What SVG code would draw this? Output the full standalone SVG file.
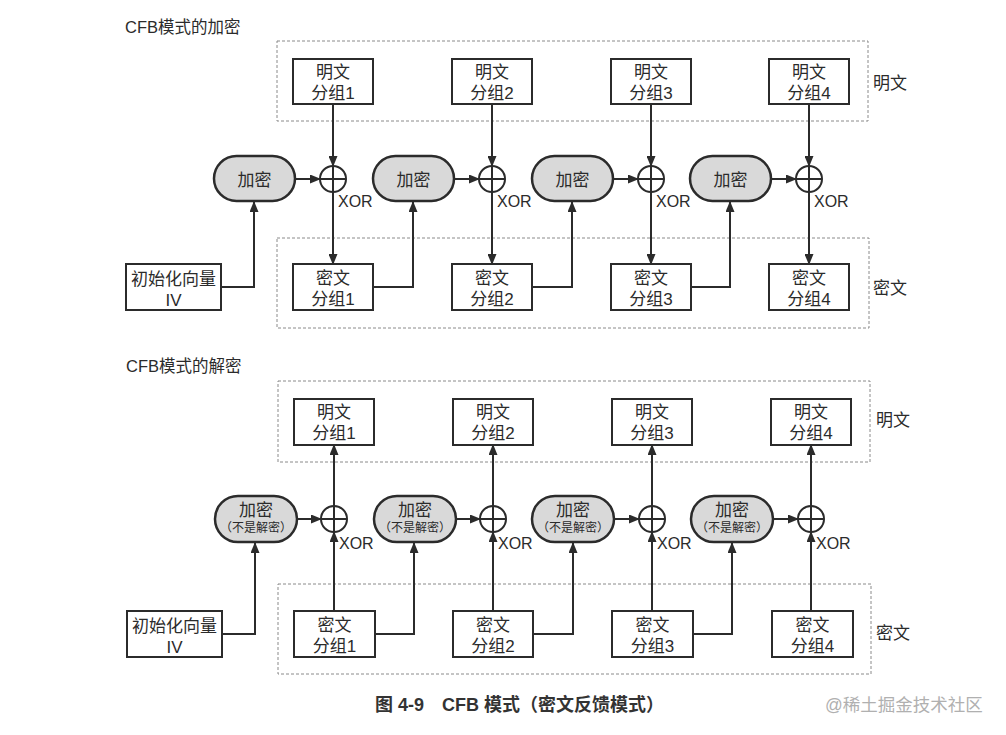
<svg xmlns="http://www.w3.org/2000/svg" width="1006" height="735" viewBox="0 0 1006 735">
<defs>
<style>
text{font-family:"Liberation Sans","Noto Sans CJK SC",sans-serif;fill:#2b2b2b;}
.t{font-size:17px;text-anchor:middle;}
.title{font-size:16.5px;}
.side{font-size:17px;}
.xor{font-size:16px;}
.small{font-size:12px;text-anchor:middle;}
.box{fill:#fff;stroke:#2b2b2b;stroke-width:2;}
.pill{fill:#d9d9d9;stroke:#2b2b2b;stroke-width:2.5;}
.dash{fill:none;stroke:#8a8a8a;stroke-width:1;stroke-dasharray:3,2;}
.line{fill:none;stroke:#2b2b2b;stroke-width:2;}
.arr{fill:none;stroke:#2b2b2b;stroke-width:2;marker-end:url(#ah);}
.xc{fill:#fff;stroke:#2b2b2b;stroke-width:2;}
</style>
<marker id="ah" markerUnits="userSpaceOnUse" markerWidth="11" markerHeight="9" refX="10" refY="4.5" orient="auto">
<path d="M0,0 L11,4.5 L0,9 z" fill="#2b2b2b"/>
</marker>
</defs>
<rect width="1006" height="735" fill="#fff"/>

<!-- ===== Encryption ===== -->
<text class="title" x="125" y="33">CFB模式的加密</text>
<rect class="dash" x="277" y="41" width="591" height="80"/>
<rect class="dash" x="277" y="238" width="592" height="90"/>
<text class="side" x="873" y="89">明文</text>
<text class="side" x="873" y="294">密文</text>

<g id="connectors-enc">
<line class="arr" x1="333" y1="104" x2="333" y2="166"/>
<line class="arr" x1="492" y1="104" x2="492" y2="166"/>
<line class="arr" x1="651" y1="104" x2="651" y2="166"/>
<line class="arr" x1="809" y1="104" x2="809" y2="166"/>
<line class="arr" x1="295" y1="179" x2="320" y2="179"/>
<line class="arr" x1="454" y1="179" x2="479" y2="179"/>
<line class="arr" x1="613" y1="179" x2="638" y2="179"/>
<line class="arr" x1="771" y1="179" x2="796" y2="179"/>
<line class="arr" x1="333" y1="192" x2="333" y2="264"/>
<line class="arr" x1="492" y1="192" x2="492" y2="264"/>
<line class="arr" x1="651" y1="192" x2="651" y2="264"/>
<line class="arr" x1="809" y1="192" x2="809" y2="264"/>
<polyline class="arr" points="221,287 254,287 254,202"/>
<polyline class="arr" points="373,287 413,287 413,202"/>
<polyline class="arr" points="532,287 572,287 572,202"/>
<polyline class="arr" points="691,287 730,287 730,202"/>
</g>

<g id="enc-pt1"><rect class="box" x="293" y="59" width="80" height="45"/><text class="t" x="333" y="78">明文</text><text class="t" x="333" y="99">分组1</text></g>
<g id="enc-pt2"><rect class="box" x="452" y="59" width="80" height="45"/><text class="t" x="492" y="78">明文</text><text class="t" x="492" y="99">分组2</text></g>
<g id="enc-pt3"><rect class="box" x="611" y="59" width="80" height="45"/><text class="t" x="651" y="78">明文</text><text class="t" x="651" y="99">分组3</text></g>
<g id="enc-pt4"><rect class="box" x="769" y="59" width="80" height="45"/><text class="t" x="809" y="78">明文</text><text class="t" x="809" y="99">分组4</text></g>

<g id="enc-e1"><rect class="pill" x="214" y="156" width="81" height="45" rx="22.5"/><text class="t" x="254.5" y="186">加密</text></g>
<g id="enc-e2"><rect class="pill" x="373" y="156" width="81" height="45" rx="22.5"/><text class="t" x="413.5" y="186">加密</text></g>
<g id="enc-e3"><rect class="pill" x="532" y="156" width="81" height="45" rx="22.5"/><text class="t" x="572.5" y="186">加密</text></g>
<g id="enc-e4"><rect class="pill" x="690" y="156" width="81" height="45" rx="22.5"/><text class="t" x="730.5" y="186">加密</text></g>

<g id="enc-x1"><circle class="xc" cx="333" cy="179" r="13"/><path class="line" d="M320,179 H346 M333,166 V192"/><text class="xor" x="338" y="207">XOR</text></g>
<g id="enc-x2"><circle class="xc" cx="492" cy="179" r="13"/><path class="line" d="M479,179 H505 M492,166 V192"/><text class="xor" x="497" y="207">XOR</text></g>
<g id="enc-x3"><circle class="xc" cx="651" cy="179" r="13"/><path class="line" d="M638,179 H664 M651,166 V192"/><text class="xor" x="656" y="207">XOR</text></g>
<g id="enc-x4"><circle class="xc" cx="809" cy="179" r="13"/><path class="line" d="M796,179 H822 M809,166 V192"/><text class="xor" x="814" y="207">XOR</text></g>

<g id="enc-iv"><rect class="box" x="126" y="264" width="95" height="46"/><text class="t" x="173.5" y="285">初始化向量</text><text class="t" x="173.5" y="306">IV</text></g>
<g id="enc-ct1"><rect class="box" x="293" y="264" width="80" height="46"/><text class="t" x="333" y="284">密文</text><text class="t" x="333" y="305">分组1</text></g>
<g id="enc-ct2"><rect class="box" x="452" y="264" width="80" height="46"/><text class="t" x="492" y="284">密文</text><text class="t" x="492" y="305">分组2</text></g>
<g id="enc-ct3"><rect class="box" x="611" y="264" width="80" height="46"/><text class="t" x="651" y="284">密文</text><text class="t" x="651" y="305">分组3</text></g>
<g id="enc-ct4"><rect class="box" x="769" y="264" width="80" height="46"/><text class="t" x="809" y="284">密文</text><text class="t" x="809" y="305">分组4</text></g>

<!-- ===== Decryption ===== -->
<text class="title" x="126" y="372">CFB模式的解密</text>
<rect class="dash" x="278" y="381" width="592" height="81"/>
<rect class="dash" x="278" y="584" width="593" height="90"/>
<text class="side" x="876" y="426">明文</text>
<text class="side" x="876" y="639">密文</text>

<g id="connectors-dec">
<line class="arr" x1="334" y1="611" x2="334" y2="532"/>
<line class="arr" x1="493" y1="611" x2="493" y2="532"/>
<line class="arr" x1="652" y1="611" x2="652" y2="532"/>
<line class="arr" x1="811" y1="611" x2="811" y2="532"/>
<line class="arr" x1="334" y1="506" x2="334" y2="445"/>
<line class="arr" x1="493" y1="506" x2="493" y2="445"/>
<line class="arr" x1="652" y1="506" x2="652" y2="445"/>
<line class="arr" x1="811" y1="506" x2="811" y2="445"/>
<line class="arr" x1="297" y1="519" x2="321" y2="519"/>
<line class="arr" x1="456" y1="519" x2="480" y2="519"/>
<line class="arr" x1="614" y1="519" x2="639" y2="519"/>
<line class="arr" x1="773" y1="519" x2="798" y2="519"/>
<polyline class="arr" points="222,634 255,634 255,543"/>
<polyline class="arr" points="375,634 414,634 414,543"/>
<polyline class="arr" points="533,634 573,634 573,543"/>
<polyline class="arr" points="692,634 732,634 732,543"/>
</g>

<g id="dec-pt1"><rect class="box" x="294" y="399" width="80" height="46"/><text class="t" x="334" y="418">明文</text><text class="t" x="334" y="439">分组1</text></g>
<g id="dec-pt2"><rect class="box" x="453" y="399" width="80" height="46"/><text class="t" x="493" y="418">明文</text><text class="t" x="493" y="439">分组2</text></g>
<g id="dec-pt3"><rect class="box" x="612" y="399" width="80" height="46"/><text class="t" x="652" y="418">明文</text><text class="t" x="652" y="439">分组3</text></g>
<g id="dec-pt4"><rect class="box" x="771" y="399" width="80" height="46"/><text class="t" x="811" y="418">明文</text><text class="t" x="811" y="439">分组4</text></g>

<g id="dec-e1"><rect class="pill" x="215" y="496" width="82" height="46" rx="23"/><text class="t" x="256" y="516">加密</text><text class="small" x="256" y="532">（不是解密）</text></g>
<g id="dec-e2"><rect class="pill" x="374" y="496" width="82" height="46" rx="23"/><text class="t" x="415" y="516">加密</text><text class="small" x="415" y="532">（不是解密）</text></g>
<g id="dec-e3"><rect class="pill" x="532" y="496" width="82" height="46" rx="23"/><text class="t" x="573" y="516">加密</text><text class="small" x="573" y="532">（不是解密）</text></g>
<g id="dec-e4"><rect class="pill" x="691" y="496" width="82" height="46" rx="23"/><text class="t" x="732" y="516">加密</text><text class="small" x="732" y="532">（不是解密）</text></g>

<g id="dec-x1"><circle class="xc" cx="334" cy="519" r="13"/><path class="line" d="M321,519 H347 M334,506 V532"/><text class="xor" x="339" y="549">XOR</text></g>
<g id="dec-x2"><circle class="xc" cx="493" cy="519" r="13"/><path class="line" d="M480,519 H506 M493,506 V532"/><text class="xor" x="498" y="549">XOR</text></g>
<g id="dec-x3"><circle class="xc" cx="652" cy="519" r="13"/><path class="line" d="M639,519 H665 M652,506 V532"/><text class="xor" x="657" y="549">XOR</text></g>
<g id="dec-x4"><circle class="xc" cx="811" cy="519" r="13"/><path class="line" d="M798,519 H824 M811,506 V532"/><text class="xor" x="816" y="549">XOR</text></g>

<g id="dec-iv"><rect class="box" x="127" y="611" width="95" height="46"/><text class="t" x="174.5" y="632">初始化向量</text><text class="t" x="174.5" y="653">IV</text></g>
<g id="dec-ct1"><rect class="box" x="294" y="611" width="81" height="46"/><text class="t" x="334.5" y="631">密文</text><text class="t" x="334.5" y="652">分组1</text></g>
<g id="dec-ct2"><rect class="box" x="453" y="611" width="80" height="46"/><text class="t" x="493" y="631">密文</text><text class="t" x="493" y="652">分组2</text></g>
<g id="dec-ct3"><rect class="box" x="612" y="611" width="81" height="46"/><text class="t" x="652.5" y="631">密文</text><text class="t" x="652.5" y="652">分组3</text></g>
<g id="dec-ct4"><rect class="box" x="772" y="611" width="81" height="46"/><text class="t" x="812.5" y="631">密文</text><text class="t" x="812.5" y="652">分组4</text></g>

<text x="375" y="711" style="font-size:18px;font-weight:bold;fill:#333">图 4-9　CFB 模式（密文反馈模式）</text>
<text x="825" y="711" style="font-size:17.5px;fill:#b0b0b0">@稀土掘金技术社区</text>
</svg>
